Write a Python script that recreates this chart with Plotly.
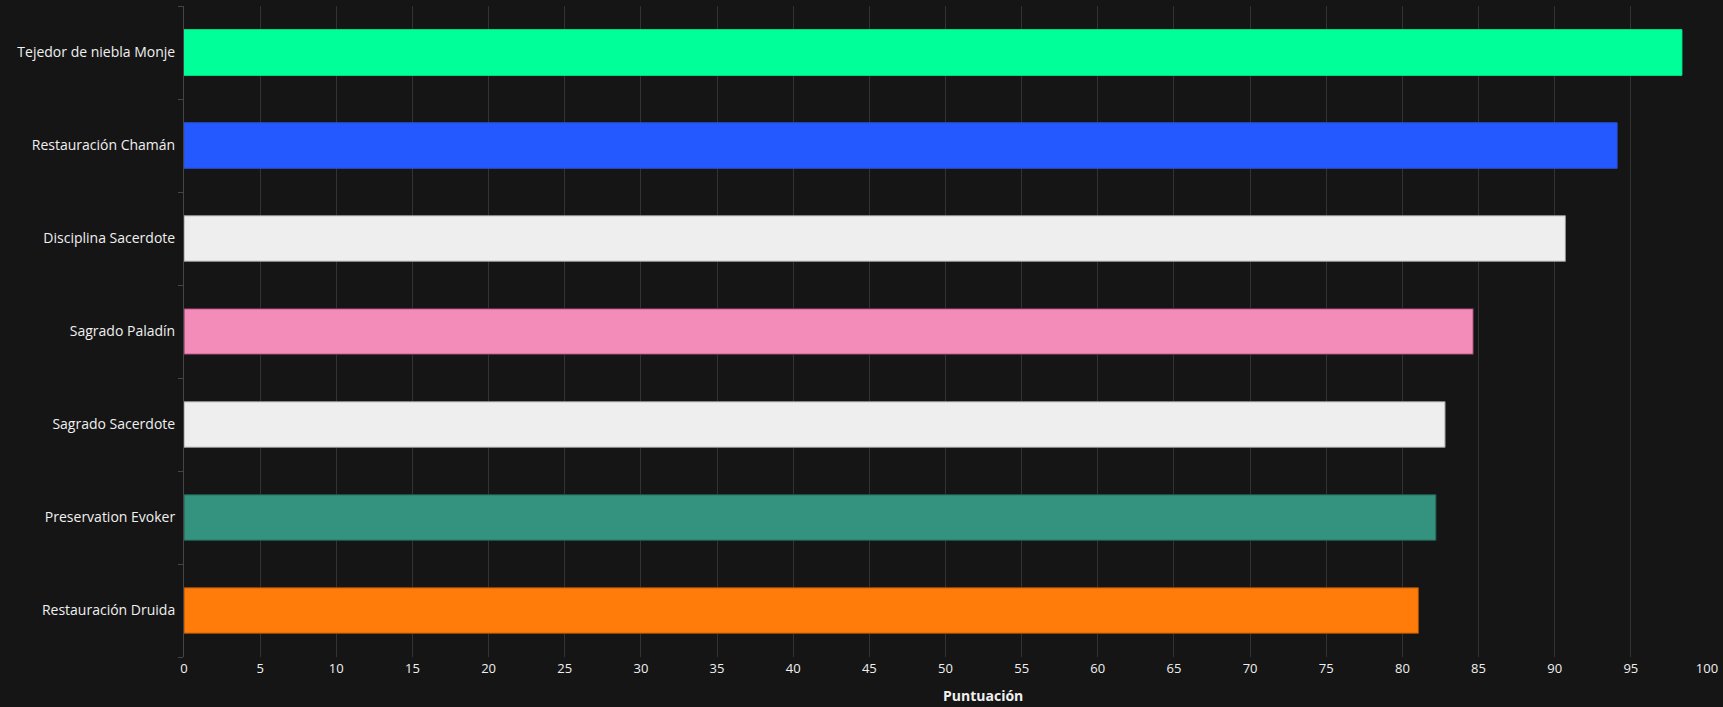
import plotly.graph_objects as go

categories = ["Tejedor de niebla Monje", "Restauración Chamán", "Disciplina Sacerdote",
              "Sagrado Paladín", "Sagrado Sacerdote", "Preservation Evoker", "Restauración Druida"]
scores = [98.35, 94.1, 90.7, 84.65, 82.8, 82.2, 81.05]
colors = ["#00FF98", "#2459FF", "#EEEEEE", "#F48CBA", "#EEEEEE", "#33937F", "#FF7C0A"]
borders = ["#00FF98", "#2a4fd0", "#999999", "#6a3050", "#999999", "#1f5c50", "#a04e05"]
x_ticks = list(range(0, 101, 5))

fig = go.Figure(go.Bar(
    y=categories, x=scores, orientation="h",
    marker=dict(color=colors, line=dict(color=borders, width=1)),
    width=0.49,
))

fig.update_layout(
    width=1723, height=707,
    margin=dict(l=184, r=16, t=6, b=50),
    paper_bgcolor="#151515", plot_bgcolor="#151515",
    font=dict(family="Open Sans", color="#f0f0f0", size=13),
    showlegend=False,
    xaxis=dict(range=[0, 100], tickvals=x_ticks, showgrid=True, gridcolor="#333333",
               gridwidth=1, zeroline=False, showline=False, ticks="",
               ticklabelstandoff=2,
               tickfont=dict(size=13, color="#f0f0f0")),
    yaxis=dict(categoryorder="array", categoryarray=categories[::-1],
               showline=True, linecolor="#444444", linewidth=1,
               ticks="outside", tickson="boundaries", ticklen=5, tickcolor="#444444",
               ticklabelstandoff=5,
               showgrid=False, tickfont=dict(size=14, color="#f0f0f0")),
    annotations=[dict(text="<b>Puntuación</b>", xref="paper", yref="paper",
                      x=0.5246, y=0, yshift=-38, showarrow=False,
                      xanchor="center", yanchor="middle",
                      font=dict(size=14, color="#f0f0f0"))],
)

fig.write_html("out.html")
